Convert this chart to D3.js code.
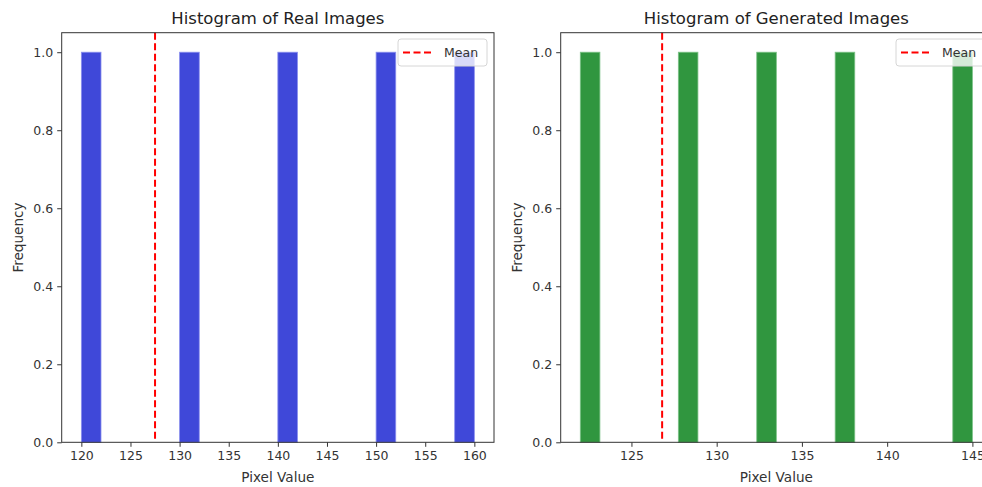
<!DOCTYPE html>
<html>
<head>
<meta charset="utf-8">
<script src="https://cdn.jsdelivr.net/npm/d3@7"></script>
<style>
  body { margin: 0; background: #fff; }
  svg { display: block; font-family: "DejaVu Sans", sans-serif; }
</style>
</head>
<body>
<script>
// data
var realValues = [120, 130, 140, 150, 160];
var genValues = [122, 128, 133, 137, 145];
var realMean = 127.5;
var genMean = 126.8;
var realTicks = [120, 125, 130, 135, 140, 145, 150, 155, 160];
var genTicks = [125, 130, 135, 140, 145];
var yTicks = [0, 0.2, 0.4, 0.6, 0.8, 1.0];
var nBins = 20;

var width = 982, height = 487;
var svg = d3.select("body").append("svg")
    .attr("width", width)
    .attr("height", height);

function drawPanel(cfg) {
    var values = cfg.values;
    var lo = d3.min(values), hi = d3.max(values);
    var step = (hi - lo) / nBins;
    var thresholds = d3.range(1, nBins).map(function(i) { return lo + i * step; });
    var bins = d3.bin().domain([lo, hi]).thresholds(thresholds)(values);

    // matplotlib-ish 5% margin on x
    var pad = (hi - lo) * 0.05;
    var x = d3.scaleLinear().domain([lo - pad, hi + pad]).range([cfg.left, cfg.right]);
    var y = d3.scaleLinear().domain([0, 1.05]).range([cfg.bottom, cfg.top]);

    var g = svg.append("g");

    g.selectAll("rect.bar")
        .data(bins.filter(function(b) { return b.length > 0; }))
        .enter().append("rect")
        .attr("class", "bar")
        .attr("x", function(d) { return x(d.x0); })
        .attr("y", function(d) { return y(d.length); })
        .attr("width", function(d) { return x(d.x1) - x(d.x0); })
        .attr("height", function(d) { return y(0) - y(d.length); })
        .attr("fill", cfg.color)
        .attr("stroke", cfg.edge)
        .attr("stroke-width", 0.8);

    g.append("line")
        .attr("x1", x(cfg.mean)).attr("x2", x(cfg.mean))
        .attr("y1", cfg.top).attr("y2", cfg.bottom)
        .attr("stroke", "#f00")
        .attr("stroke-width", 2)
        .attr("stroke-dasharray", "7,3.5");

    var xAxis = g.append("g")
        .attr("transform", "translate(0," + cfg.bottom + ")")
        .call(d3.axisBottom(x).tickValues(cfg.ticks).tickSize(4.5).tickPadding(4).tickFormat(d3.format("d")));
    var yAxis = g.append("g")
        .attr("transform", "translate(" + cfg.left + ",0)")
        .call(d3.axisLeft(y).tickValues(yTicks).tickSize(4.5).tickPadding(4).tickFormat(d3.format(".1f")));

    [xAxis, yAxis].forEach(function(a) {
        a.select(".domain").remove();
        a.selectAll("line").attr("stroke", "#333");
        a.selectAll("text")
            .attr("fill", "#333")
            .style("font-size", "12.5px")
            .style("font-family", "DejaVu Sans, sans-serif");
    });

    // frame
    g.append("rect")
        .attr("x", cfg.left).attr("y", cfg.top)
        .attr("width", cfg.right - cfg.left)
        .attr("height", cfg.bottom - cfg.top)
        .attr("fill", "none")
        .attr("stroke", "#333")
        .attr("stroke-width", 1);

    g.append("text")
        .attr("x", (cfg.left + cfg.right) / 2)
        .attr("y", 24)
        .attr("text-anchor", "middle")
        .attr("fill", "#222")
        .style("font-size", "16.5px")
        .text(cfg.title);

    g.append("text")
        .attr("x", (cfg.left + cfg.right) / 2)
        .attr("y", 482)
        .attr("text-anchor", "middle")
        .attr("fill", "#333")
        .style("font-size", "13.6px")
        .text("Pixel Value");

    g.append("text")
        .attr("transform", "translate(" + (cfg.left - 39) + "," + ((cfg.top + cfg.bottom) / 2) + ") rotate(-90)")
        .attr("text-anchor", "middle")
        .attr("fill", "#333")
        .style("font-size", "13.6px")
        .text("Frequency");

    // legend
    var lx = cfg.right - 7 - 89, ly = 39;
    var leg = g.append("g").attr("transform", "translate(" + lx + "," + ly + ")");
    leg.append("rect")
        .attr("width", 89).attr("height", 27).attr("rx", 3)
        .attr("fill", "#fff").attr("fill-opacity", 0.8)
        .attr("stroke", "#d6d6d6");
    leg.append("line")
        .attr("x1", 5).attr("x2", 35).attr("y1", 13.5).attr("y2", 13.5)
        .attr("stroke", "#f00").attr("stroke-width", 2)
        .attr("stroke-dasharray", "7,3.5");
    leg.append("text")
        .attr("x", 46).attr("y", 18)
        .attr("fill", "#333")
        .style("font-size", "12.5px")
        .text("Mean");
}

drawPanel({
    title: "Histogram of Real Images",
    values: realValues, mean: realMean, ticks: realTicks,
    color: "#3f48d9", edge: "#8a90ee",
    left: 61.7, right: 494, top: 32.7, bottom: 442.3
});

drawPanel({
    title: "Histogram of Generated Images",
    values: genValues, mean: genMean, ticks: genTicks,
    color: "#30963f", edge: "#7cc287",
    left: 560.7, right: 992, top: 32.7, bottom: 442.3
});
</script>
</body>
</html>
